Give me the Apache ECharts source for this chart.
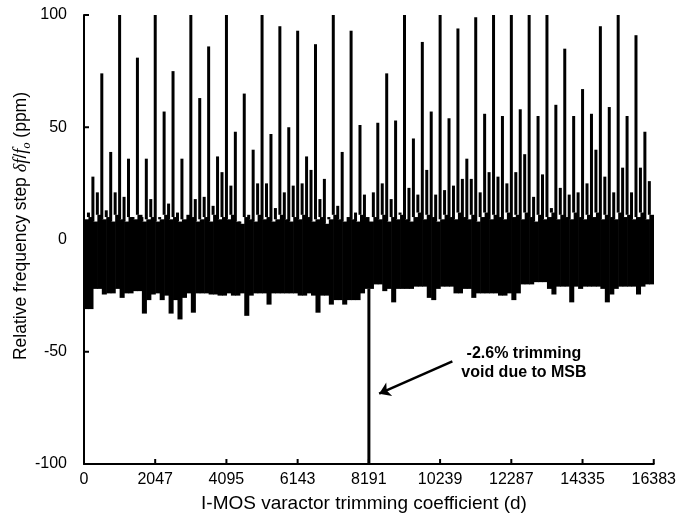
<!DOCTYPE html>
<html>
<head>
<meta charset="utf-8">
<script src="https://cdn.jsdelivr.net/npm/echarts@6/dist/echarts.min.js"></script>
<style>
  html, body { margin: 0; padding: 0; background: #fff; }
  #chart { width: 679px; height: 516px; }
</style>
</head>
<body>
<div id="chart"></div>
<script>
// ---- data ----
// x-axis tick labels (trimming code)
const xTicks = [0, 2047, 4095, 6143, 8191, 10239, 12287, 14335, 16383];
// y-axis ticks (ppm)
const yTicks = [-100, -50, 0, 50, 100];
// width (in codes) of one sample bin
const binWidth = 128;
// peak of each bin (spike value, ppm); bin 64 is the MSB void
const spikeVal = [
  8, 12, 28, 21, 74, 13, 39, 21, 100, 19, 36, 10, 81, 10, 36, 18,
  100, 10, 57, 16, 75, 12, 36, 11, 100, 18, 63, 19, 86, 15, 37, 30,
  100, 24, 48, 8, 65, 11, 40, 25, 100, 25, 47, 14, 95, 21, 50, 24,
  93, 25, 37, 31, 87, 18, 27, 10, 100, 15, 39, 10, 93, 12, 51, 20,
  -100, 21, 52, 25, 74, 18, 53, 12, 100, 23, 45, 20, 88, 31, 57, 20,
  100, 22, 54, 24, 94, 27, 36, 27, 99, 21, 56, 30, 100, 28, 55, 25,
  100, 30, 58, 38, 100, 19, 55, 29, 100, 14, 60, 23, 85, 20, 55, 21,
  67, 25, 56, 40, 95, 28, 59, 21, 100, 32, 55, 21, 91, 32, 48, 26
];
// upper edge of the dense noise band in each bin (ppm)
const bandHigh = [
  9, 10, 8, 11, 9, 10, 8, 11, 9, 8, 10, 9, 11, 8, 9, 10,
  8, 9, 11, 9, 10, 8, 9, 11, 10, 8, 9, 10, 8, 11, 9, 10,
  9, 11, 8, 7, 10, 9, 8, 11, 9, 10, 8, 9, 11, 9, 8, 10,
  9, 11, 10, 8, 9, 10, 7, 9, 11, 9, 8, 10, 9, 8, 11, 10,
  8, 10, 9, 11, 8, 10, 9, 11, 9, 8, 10, 12, 9, 11, 10, 8,
  9, 11, 10, 9, 12, 10, 9, 11, 8, 10, 12, 9, 11, 10, 9, 12,
  10, 11, 9, 12, 10, 8, 11, 9, 10, 12, 9, 11, 10, 9, 12, 10,
  9, 11, 10, 12, 9, 11, 10, 9, 12, 10, 11, 9, 10, 12, 9, 11
];
// lower edge of the dense noise band in each bin (ppm)
const bandLow = [
  -31, -31, -22, -22, -24.5, -24, -24, -22, -26, -24, -24, -23, -23, -33, -27, -24.5,
  -24, -27, -25, -33, -27, -35.6, -26, -24, -32.6, -24, -24, -24, -24.5, -24.5, -25, -25,
  -24, -25, -25, -24, -34, -25, -24, -24, -24, -29, -24, -24, -24, -24, -24, -24,
  -25, -25, -24, -25, -32.6, -25, -25, -29, -27, -27, -29, -27, -27, -27, -24, -22,
  -22, -20, -20, -23, -22, -28, -22, -22, -22, -22, -21, -21, -21, -26, -27, -22,
  -21, -21, -21, -24, -24, -22, -22, -26, -24, -24, -24, -24, -24, -25, -25, -24,
  -27, -24, -20, -20, -20, -19, -19, -19, -22, -24.5, -21, -21, -21, -28, -21, -22,
  -21, -21, -21, -21, -22, -28, -24.5, -22, -21, -21, -21, -21, -24.5, -21, -20, -20
];
// annotation
const noteText = ['-2.6% trimming', 'void due to MSB'];
const noteAt = [12650, -55];
const arrowFrom = [10592, -54.3];
const arrowTo = [8487, -68.7];

const binCodes = spikeVal.map((_, i) => i * binWidth);
const seriesData = binCodes.map((c, i) => [c, bandLow[i], bandHigh[i], spikeVal[i]]);

const chart = echarts.init(document.getElementById('chart'), null, { renderer: 'canvas' });
const FONT = '"Liberation Sans", Arial, Helvetica, sans-serif';

function renderItem(params, api) {
  const x = api.value(0);
  const lo = api.value(1), hi = api.value(2), sp = api.value(3);
  const pLo = api.coord([x, lo]);
  const pHi = api.coord([x, hi]);
  const pEnd = api.coord([x + binWidth, lo]);
  const pSp = api.coord([x, sp]);
  const children = [{
    type: 'rect',
    shape: { x: pLo[0], y: pHi[1], width: pEnd[0] - pLo[0] + 0.6, height: pLo[1] - pHi[1] },
    style: { fill: '#000' }
  }];
  if (sp > hi || sp < lo) {
    const start = sp > hi ? pHi[1] : pLo[1];
    children.push({
      type: 'line',
      shape: { x1: pSp[0], y1: start, x2: pSp[0], y2: pSp[1] },
      style: { stroke: '#000', lineWidth: 3, lineCap: 'butt' }
    });
  }
  return { type: 'group', children: children };
}

const option = {
  backgroundColor: '#fff',
  animation: false,
  grid: { left: 84, right: 24, top: 15, bottom: 52, containLabel: false },
  xAxis: {
    type: 'value',
    min: xTicks[0],
    max: xTicks[xTicks.length - 1],
    axisLine: { show: true, onZero: false, lineStyle: { color: '#000', width: 2 } },
    axisTick: { show: false },
    axisLabel: {
      customValues: xTicks, color: '#000', fontSize: 16, fontFamily: FONT, margin: 8,
      formatter: (v) => String(Math.round(v))
    },
    splitLine: { show: false }
  },
  yAxis: {
    type: 'value',
    min: yTicks[0],
    max: yTicks[yTicks.length - 1],
    interval: 50,
    axisLine: { show: true, onZero: false, lineStyle: { color: '#000', width: 2 } },
    axisTick: { show: false },
    axisLabel: { color: '#000', fontSize: 16, fontFamily: FONT, margin: 17, formatter: (v) => String(v) },
    splitLine: { show: false }
  },
  series: [{
    type: 'custom',
    coordinateSystem: 'cartesian2d',
    clip: true,
    renderItem: renderItem,
    encode: { x: 0, y: [1, 2, 3] },
    data: seriesData,
    markLine: {
      silent: true,
      symbol: ['none', 'arrow'],
      symbolSize: 11,
      lineStyle: { color: '#000', width: 2.5, type: 'solid' },
      label: { show: false },
      data: [[{ coord: arrowFrom }, { coord: arrowTo }]]
    }
  }]
};
chart.setOption(option);

// inward tick marks placed through the chart's own scales
const TICK = 5;
const tickGraphics = [];
xTicks.forEach((v) => {
  const p = chart.convertToPixel({ gridIndex: 0 }, [v, yTicks[0]]);
  tickGraphics.push({
    type: 'line', z: 50, silent: true,
    shape: { x1: p[0], y1: p[1], x2: p[0], y2: p[1] - TICK },
    style: { stroke: '#000', lineWidth: 2 }
  });
});
yTicks.forEach((v) => {
  const p = chart.convertToPixel({ gridIndex: 0 }, [xTicks[0], v]);
  tickGraphics.push({
    type: 'line', z: 50, silent: true,
    shape: { x1: p[0], y1: p[1], x2: p[0] + TICK, y2: p[1] },
    style: { stroke: '#000', lineWidth: 2 }
  });
});

const notePx = chart.convertToPixel({ gridIndex: 0 }, noteAt);
chart.setOption({
  graphic: tickGraphics.concat([
    {
      type: 'text',
      x: 20.7, y: 226,
      rotation: Math.PI / 2,
      style: {
        text: '{a|Relative frequency step }{g|δf}{a|/}{g|f}{s|o}{a| (ppm)}',
        align: 'center',
        verticalAlign: 'middle',
        fill: '#000',
        rich: {
          a: { fontSize: 17.5, fontFamily: FONT, lineHeight: 24, verticalAlign: 'middle', fill: '#000' },
          g: { fontSize: 18.5, fontFamily: '"Liberation Serif", "Times New Roman", serif', fontStyle: 'italic', lineHeight: 24, verticalAlign: 'middle', fill: '#000' },
          s: { fontSize: 12, fontFamily: '"Liberation Serif", "Times New Roman", serif', fontStyle: 'italic', lineHeight: 12, verticalAlign: 'bottom', fill: '#000' }
        }
      }
    },
    {
      type: 'text',
      x: 364, y: 504,
      style: {
        text: 'I-MOS varactor trimming coefficient (d)',
        font: '19px ' + FONT,
        align: 'center',
        verticalAlign: 'middle',
        fill: '#000'
      }
    },
    {
      type: 'text',
      x: notePx[0], y: notePx[1],
      style: {
        text: noteText.join('\n'),
        font: 'bold 16px ' + FONT,
        lineHeight: 19,
        align: 'center',
        verticalAlign: 'middle',
        fill: '#000'
      }
    }
  ])
});
</script>
</body>
</html>
